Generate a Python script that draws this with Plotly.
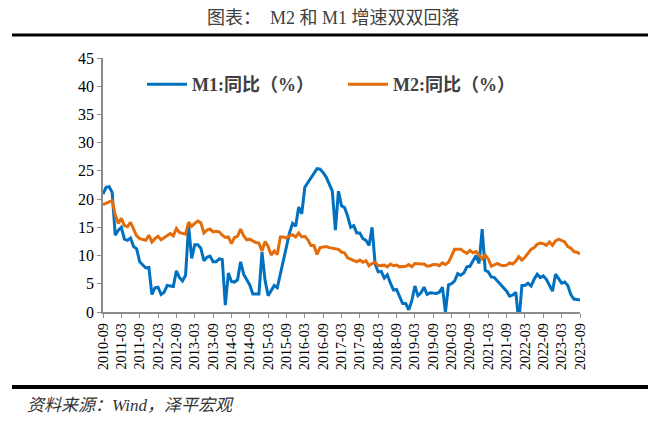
import pandas as pd
import plotly.graph_objects as go

months = [d.strftime("%Y-%m") for d in pd.date_range("2010-09-01", "2023-09-01", freq="MS")]

m1 = [
    20.9, 22.1, 22.2, 21.2,
    13.6, 14.5, 15.0, 12.9, 12.7, 13.1, 11.6, 11.2, 8.9, 8.4, 7.8, 7.9,
    3.1, 4.3, 4.4, 3.1, 3.5, 4.7, 4.6, 4.5, 7.3, 6.1, 5.5, 6.5,
    15.3, 9.5, 11.9, 11.9, 11.3, 9.1, 9.7, 9.9, 8.9, 8.9, 9.4, 9.3,
    1.2, 6.9, 5.4, 5.3, 5.7, 8.9, 6.7, 5.7, 4.8, 3.2, 3.2, 3.2,
    10.6, 5.6, 2.9, 3.7, 4.7, 4.3, 6.6, 9.3, 11.4, 14.0, 15.7, 15.2,
    18.6, 17.4, 22.1, 22.9, 23.7, 24.6, 25.4, 25.3, 24.7, 23.9, 22.7, 21.4,
    14.5, 21.4, 18.8, 18.5, 17.0, 15.0, 15.3, 14.0, 14.0, 13.0, 12.7, 11.8,
    15.0, 8.5, 7.1, 7.2, 6.0, 6.6, 5.1, 3.9, 4.0, 2.7, 1.5, 1.5,
    0.4, 2.0, 4.6, 2.9, 3.4, 4.4, 3.1, 3.4, 3.4, 3.3, 3.5, 4.4,
    0.0, 4.8, 5.0, 5.5, 6.8, 6.5, 6.9, 8.0, 8.1, 9.1, 10.0, 8.6,
    14.7, 7.4, 7.1, 6.2, 6.1, 5.5, 4.9, 4.2, 3.7, 2.8, 3.0, 3.5,
    -1.9, 4.7, 4.7, 5.1, 4.6, 5.8, 6.7, 6.1, 6.4, 5.8, 4.6, 3.7,
    6.7, 5.8, 5.1, 5.3, 4.7, 3.1, 2.3, 2.2, 2.1,
]

m2 = [
    19.0, 19.3, 19.5, 19.7,
    17.2, 15.7, 16.6, 15.3, 15.1, 15.9, 14.7, 13.5, 13.0, 12.9, 12.7, 13.6,
    12.4, 13.0, 13.4, 12.8, 13.2, 13.6, 13.9, 13.5, 14.8, 14.1, 13.9, 13.8,
    15.9, 15.2, 15.7, 16.1, 15.8, 14.0, 14.5, 14.7, 14.2, 14.3, 14.2, 13.6,
    13.2, 13.3, 12.1, 13.2, 13.4, 14.7, 13.5, 12.8, 12.9, 12.6, 12.3, 12.2,
    10.8, 12.5, 11.6, 10.1, 10.8, 10.2, 13.3, 13.3, 13.1, 13.5, 13.7, 13.3,
    14.0, 13.3, 13.4, 12.8, 11.8, 11.8, 10.2, 11.4, 11.5, 11.6, 11.4, 11.3,
    11.3, 11.1, 10.6, 10.5, 9.6, 9.4, 9.2, 8.9, 9.2, 8.8, 9.1, 8.2,
    8.6, 8.8, 8.2, 8.3, 8.3, 8.0, 8.5, 8.2, 8.3, 8.0, 8.0, 8.1,
    8.4, 8.0, 8.6, 8.5, 8.5, 8.5, 8.1, 8.2, 8.4, 8.4, 8.2, 8.7,
    8.4, 8.8, 10.1, 11.1, 11.1, 11.1, 10.7, 10.4, 10.9, 10.5, 10.7, 10.1,
    9.4, 10.1, 9.4, 8.1, 8.3, 8.6, 8.3, 8.2, 8.3, 8.7, 8.5, 9.0,
    9.8, 9.2, 9.7, 10.5, 11.1, 11.4, 12.0, 12.2, 12.1, 11.8, 12.4, 11.8,
    12.6, 12.9, 12.7, 12.4, 11.6, 11.3, 10.7, 10.6, 10.3,
]

names = ["M1:同比（%）", "M2:同比（%）"]
colors = ["#0070C0", "#E46C0A"]
title_text = "图表：  M2 和 M1 增速双双回落"
source_text = "资料来源：Wind，泽平宏观"

tickvals = months[::6]

serif = "Liberation Serif, Noto Sans CJK SC, serif"

fig = go.Figure()
for name, vals, col in [(names[0], m1, colors[0]), (names[1], m2, colors[1])]:
    fig.add_trace(go.Scatter(x=months, y=vals, mode="lines", name="<b>" + name + "</b>",
                             line=dict(color=col, width=3)))

T, B, L, R = 58, 111, 103, 80
H = 423 - T - B
W = 660 - L - R

def py(pix):
    return (423 - B - pix) / H

def px(pix):
    return (pix - L) / W

fig.update_layout(
    width=660, height=423,
    margin=dict(l=L, r=R, t=T, b=B),
    paper_bgcolor="white", plot_bgcolor="white",
    showlegend=True,
    legend=dict(orientation="h", x=px(142), y=py(66), xanchor="left", yanchor="top",
                font=dict(family=serif, size=18, color="#404040"),
                itemwidth=40, entrywidth=146, traceorder="normal", bgcolor="rgba(0,0,0,0)"),
    xaxis=dict(type="category", range=[0, len(months) - 1],
               tickmode="array", tickvals=tickvals, ticktext=tickvals,
               tickangle=-90, showgrid=False, zeroline=False,
               showline=True, linecolor="#8c8c8c", linewidth=1.5,
               ticks="outside", ticklen=4, tickcolor="#8c8c8c",
               tickfont=dict(family=serif, size=14, color="#000000")),
    yaxis=dict(range=[0, 45], dtick=5, showgrid=False, zeroline=False,
               showline=True, linecolor="#8c8c8c", linewidth=1.5,
               ticks="outside", ticklen=4, tickcolor="#8c8c8c",
               tickfont=dict(family=serif, size=16, color="#000000")),
    shapes=[
        dict(type="line", xref="paper", yref="paper", x0=px(12), x1=px(648),
             y0=py(35), y1=py(35), line=dict(color="black", width=3)),
        dict(type="line", xref="paper", yref="paper", x0=px(12), x1=px(648),
             y0=py(387), y1=py(387), line=dict(color="black", width=4)),
    ],
    annotations=[
        dict(text=title_text, xref="paper", yref="paper", x=px(333), y=py(18),
             showarrow=False, xanchor="center", yanchor="middle",
             font=dict(family=serif, size=18, color="#404040")),
        dict(text="<i>" + source_text + "</i>", xref="paper", yref="paper",
             x=px(25), y=py(405), showarrow=False,
             xanchor="left", yanchor="middle",
             font=dict(family=serif, size=17, color="#333333")),
    ],
)

fig.write_html("out.html", config={"displayModeBar": False},
               post_script="document.body.style.margin='0';")
